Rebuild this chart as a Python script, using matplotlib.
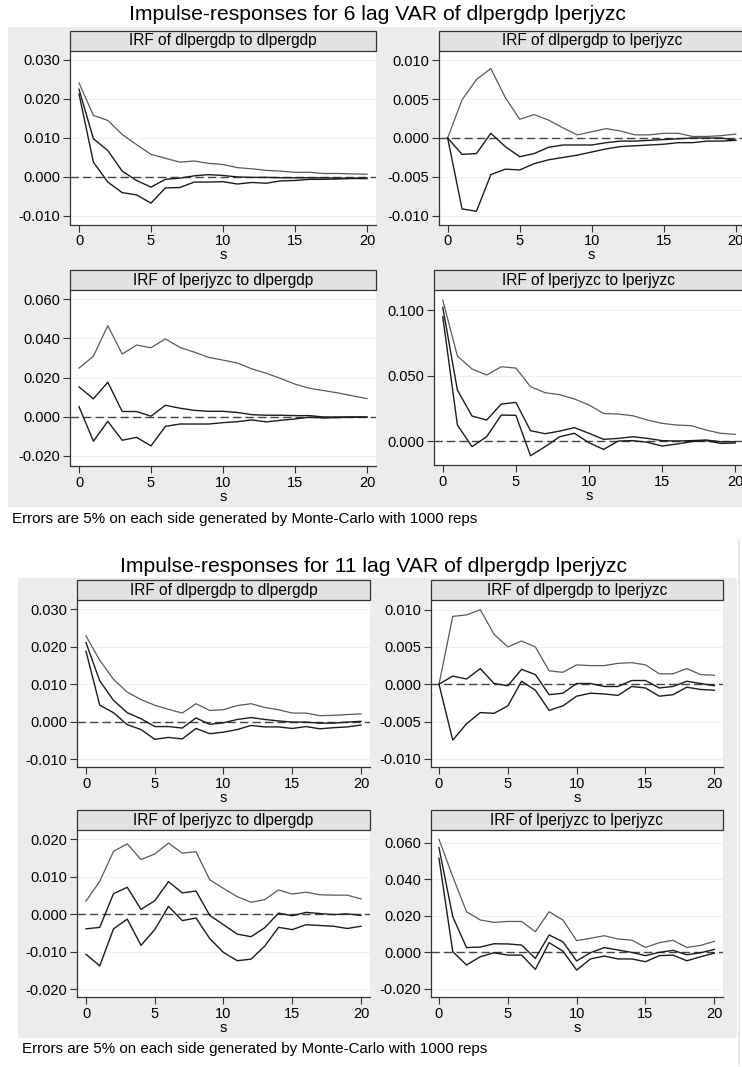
import numpy as np
import matplotlib
matplotlib.use("Agg")
import matplotlib.pyplot as plt
from matplotlib.patches import Rectangle

plt.rcParams["font.family"] = ["Liberation Sans", "DejaVu Sans"]

W, H = 742, 1067
steps = list(range(21))

# ---- 6 lag VAR ----
v6_dd_up = [0.0241, 0.0158, 0.0145, 0.0109, 0.0083, 0.0058, 0.0048, 0.0038, 0.0041, 0.0035, 0.0032,
            0.0024, 0.0021, 0.0017, 0.0015, 0.0012, 0.0012, 0.0009, 0.0009, 0.0008, 0.0007]
v6_dd_irf = [0.0225, 0.0098, 0.0068, 0.0015, -0.0009, -0.0026, -0.0006, -0.0003, 0.0003, 0.0006, 0.0004,
             0.0000, -0.0001, -0.0001, -0.0002, -0.0002, -0.0002, -0.0002, -0.0003, -0.0003, -0.0003]
v6_dd_lo = [0.0213, 0.0038, -0.0013, -0.0040, -0.0046, -0.0067, -0.0028, -0.0027, -0.0013, -0.0013, -0.0012,
            -0.0018, -0.0014, -0.0016, -0.0010, -0.0009, -0.0006, -0.0006, -0.0005, -0.0004, -0.0004]

v6_dl_up = [0.0, 0.0049, 0.0075, 0.0089, 0.0052, 0.0024, 0.0030, 0.0023, 0.0013, 0.0004, 0.0008,
            0.0012, 0.0009, 0.0004, 0.0004, 0.0006, 0.0006, 0.0002, 0.0002, 0.0003, 0.0005]
v6_dl_irf = [0.0, -0.0021, -0.0020, 0.0006, -0.0011, -0.0024, -0.0020, -0.0012, -0.0009, -0.0009, -0.0009,
             -0.0006, -0.0004, -0.0004, -0.0003, -0.0002, -0.0001, 0.0000, 0.0000, 0.0000, -0.0003]
v6_dl_lo = [0.0, -0.0091, -0.0094, -0.0047, -0.0040, -0.0041, -0.0033, -0.0028, -0.0025, -0.0022, -0.0018,
            -0.0014, -0.0011, -0.0010, -0.0009, -0.0008, -0.0006, -0.0006, -0.0004, -0.0004, -0.0003]

v6_ld_up = [0.0248, 0.0309, 0.0465, 0.0320, 0.0366, 0.0352, 0.0398, 0.0354, 0.0330, 0.0303, 0.0289,
            0.0274, 0.0244, 0.0222, 0.0195, 0.0166, 0.0145, 0.0133, 0.0121, 0.0106, 0.0092]
v6_ld_irf = [0.0152, 0.0091, 0.0176, 0.0026, 0.0026, 0.0002, 0.0058, 0.0043, 0.0032, 0.0027, 0.0027,
             0.0021, 0.0010, 0.0007, 0.0007, 0.0005, 0.0005, -0.0002, -0.0002, -0.0002, -0.0002]
v6_ld_lo = [0.0051, -0.0126, -0.0024, -0.0121, -0.0106, -0.0150, -0.0050, -0.0038, -0.0038, -0.0038, -0.0031,
            -0.0026, -0.0017, -0.0027, -0.0019, -0.0012, -0.0003, -0.0007, -0.0005, -0.0003, -0.0003]

v6_ll_up = [0.1076, 0.0649, 0.0550, 0.0504, 0.0567, 0.0557, 0.0415, 0.0369, 0.0354, 0.0321, 0.0275,
            0.0210, 0.0206, 0.0193, 0.0160, 0.0135, 0.0122, 0.0117, 0.0084, 0.0059, 0.0051]
v6_ll_irf = [0.1020, 0.0389, 0.0191, 0.0160, 0.0282, 0.0295, 0.0079, 0.0056, 0.0076, 0.0102, 0.0059,
             0.0013, 0.0020, 0.0033, 0.0020, 0.0003, 0.0000, 0.0003, 0.0008, -0.0005, -0.0005]
v6_ll_lo = [0.0949, 0.0122, -0.0043, 0.0033, 0.0198, 0.0196, -0.0112, -0.0043, 0.0033, 0.0059, -0.0013,
            -0.0064, 0.0000, 0.0003, -0.0010, -0.0038, -0.0023, -0.0005, 0.0003, -0.0018, -0.0015]

# ---- 11 lag VAR ----
v11_dd_up = [0.0229, 0.0164, 0.0113, 0.0079, 0.0059, 0.0044, 0.0033, 0.0023, 0.0048, 0.0030, 0.0032,
             0.0043, 0.0048, 0.0038, 0.0032, 0.0023, 0.0023, 0.0016, 0.0017, 0.0019, 0.0021]
v11_dd_irf = [0.0211, 0.0109, 0.0057, 0.0024, 0.0008, -0.0013, -0.0013, -0.0017, 0.0010, -0.0007, -0.0003,
              0.0006, 0.0011, 0.0006, 0.0002, -0.0001, -0.0001, -0.0004, -0.0004, -0.0001, 0.0001]
v11_dd_lo = [0.0188, 0.0044, 0.0024, -0.0008, -0.0021, -0.0047, -0.0042, -0.0046, -0.0018, -0.0032, -0.0028,
             -0.0021, -0.0010, -0.0014, -0.0014, -0.0018, -0.0013, -0.0019, -0.0016, -0.0014, -0.0009]

v11_dl_up = [0.0, 0.0091, 0.0093, 0.0100, 0.0067, 0.0050, 0.0058, 0.0050, 0.0018, 0.0016, 0.0026,
             0.0025, 0.0025, 0.0028, 0.0029, 0.0026, 0.0014, 0.0014, 0.0021, 0.0013, 0.0012]
v11_dl_irf = [0.0, 0.0011, 0.0007, 0.0021, 0.0001, -0.0002, 0.0020, 0.0013, -0.0014, -0.0012, 0.0001,
              0.0001, -0.0003, -0.0003, 0.0005, 0.0005, -0.0005, -0.0003, 0.0004, 0.0001, -0.0002]
v11_dl_lo = [0.0, -0.0075, -0.0053, -0.0038, -0.0039, -0.0029, 0.0004, -0.0008, -0.0035, -0.0029, -0.0016,
             -0.0012, -0.0013, -0.0015, -0.0003, -0.0005, -0.0016, -0.0014, -0.0004, -0.0007, -0.0008]

v11_ld_up = [0.0035, 0.0088, 0.0168, 0.0188, 0.0146, 0.0161, 0.0190, 0.0163, 0.0167, 0.0092, 0.0069,
             0.0047, 0.0032, 0.0039, 0.0065, 0.0054, 0.0059, 0.0052, 0.0051, 0.0051, 0.0041]
v11_ld_irf = [-0.0039, -0.0035, 0.0055, 0.0072, 0.0013, 0.0036, 0.0087, 0.0057, 0.0062, -0.0003, -0.0028,
              -0.0053, -0.0060, -0.0036, 0.0003, -0.0004, 0.0005, 0.0002, -0.0001, 0.0001, -0.0003]
v11_ld_lo = [-0.0107, -0.0138, -0.0039, -0.0013, -0.0083, -0.0041, 0.0021, -0.0017, -0.0010, -0.0065, -0.0102,
             -0.0124, -0.0120, -0.0085, -0.0035, -0.0041, -0.0028, -0.0030, -0.0032, -0.0038, -0.0032]

v11_ll_up = [0.0618, 0.0414, 0.0222, 0.0177, 0.0164, 0.0169, 0.0169, 0.0113, 0.0222, 0.0177, 0.0064,
             0.0077, 0.0091, 0.0073, 0.0067, 0.0027, 0.0053, 0.0066, 0.0027, 0.0038, 0.0060]
v11_ll_irf = [0.0572, 0.0195, 0.0026, 0.0029, 0.0047, 0.0046, 0.0040, -0.0033, 0.0095, 0.0058, -0.0047,
              -0.0002, 0.0026, 0.0013, 0.0000, -0.0018, 0.0000, 0.0011, -0.0013, -0.0002, 0.0016]
v11_ll_lo = [0.0514, 0.0004, -0.0069, -0.0024, -0.0002, -0.0015, -0.0015, -0.0093, 0.0053, 0.0007, -0.0097,
             -0.0036, -0.0020, -0.0036, -0.0036, -0.0051, -0.0018, -0.0015, -0.0046, -0.0024, -0.0004]

titles = ["IRF of dlpergdp to dlpergdp", "IRF of dlpergdp to lperjyzc",
          "IRF of lperjyzc to dlpergdp", "IRF of lperjyzc to lperjyzc"]
note = "Errors are 5% on each side generated by Monte-Carlo with 1000 reps"

BG = "#ececec"
STRIP = "#e2e2e2"


def fr(x0, y0, x1, y1):
    return [x0 / W, 1 - y1 / H, (x1 - x0) / W, (y1 - y0) / H]


def panel(fig, box, xlim, ylim, yticks, ylabels, title, up, irf, lo):
    x0, y0, x1, y1 = box
    ax = fig.add_axes(fr(x0, y0, x1, y1))
    ax.set_zorder(2)
    ax.set_facecolor("white")
    ax.plot(steps, up, color="#5a5a5a", lw=0.9, zorder=3)
    ax.plot(steps, irf, color="#1c1c1c", lw=1.0, zorder=3)
    ax.plot(steps, lo, color="#1c1c1c", lw=1.0, zorder=3)
    ax.axhline(0, color="#444444", lw=1.0, ls=(0, (6, 3)), zorder=2)
    for t in yticks:
        ax.axhline(t, color="#efefef", lw=0.8, zorder=1)
    ax.set_xlim(*xlim)
    ax.set_ylim(*ylim)
    ax.set_xticks([0, 5, 10, 15, 20])
    ax.set_yticks(yticks)
    ax.set_yticklabels(ylabels)
    ax.tick_params(labelsize=10.5, length=5, width=0.8, color="#333333", pad=2)
    ax.set_xlabel("s", fontsize=10.5, labelpad=0)
    for s in ["top", "right"]:
        ax.spines[s].set_visible(False)
    for s in ["left", "bottom"]:
        ax.spines[s].set_color("#333333")
        ax.spines[s].set_linewidth(0.9)
    # strip header
    sh = 20
    fig.patches.append(Rectangle((x0 / W, 1 - y0 / H), (x1 - x0) / W, sh / H,
                                 transform=fig.transFigure, facecolor=STRIP,
                                 edgecolor="#333333", lw=0.9, zorder=5))
    fig.text((x0 + x1) / 2 / W, 1 - (y0 - sh / 2) / H, title, ha="center", va="center",
             fontsize=11.2, zorder=6)
    return ax


fig = plt.figure(figsize=(W / 100, H / 100), dpi=100)
fig.patch.set_facecolor("white")

# gray graph regions
fig.patches.append(Rectangle((8 / W, 1 - 507 / H), (742 - 8) / W, (507 - 27) / H,
                             transform=fig.transFigure, facecolor=BG, edgecolor="none", zorder=-2))
fig.patches.append(Rectangle((18 / W, 1 - 1038 / H), (737 - 18) / W, (1038 - 578) / H,
                             transform=fig.transFigure, facecolor=BG, edgecolor="none", zorder=-2))
fig.add_artist(plt.Line2D([738.5 / W, 738.5 / W], [1 - 1065 / H, 1 - 540 / H],
                          transform=fig.transFigure, color="#e4e4e4", lw=1.2, zorder=-2))

fig.text(377 / W, 1 - 14 / H, "Impulse-responses for 6 lag VAR of dlpergdp lperjyzc",
         ha="center", va="center", fontsize=15.2)
fig.text(373 / W, 1 - 566 / H, "Impulse-responses for 11 lag VAR of dlpergdp lperjyzc",
         ha="center", va="center", fontsize=15.2)
fig.text(12 / W, 1 - 519 / H, note, ha="left", va="center", fontsize=10.9)
fig.text(22 / W, 1 - 1049 / H, note, ha="left", va="center", fontsize=10.9)

t3 = [0.03, 0.02, 0.01, 0.0, -0.01]
l3 = ["0.030", "0.020", "0.010", "0.000", "-0.010"]
t5 = [0.01, 0.005, 0.0, -0.005, -0.01]
l5 = ["0.010", "0.005", "0.000", "-0.005", "-0.010"]

# 6 lag
panel(fig, (70, 50.7, 376, 224.5), (-0.625, 20.625), (-0.01218, 0.03238), t3, l3,
      titles[0], v6_dd_up, v6_dd_irf, v6_dd_lo)
panel(fig, (439, 50.7, 744.4, 224.5), (-0.6, 20.6), (-0.0111, 0.0112), t5, l5,
      titles[1], v6_dl_up, v6_dl_irf, v6_dl_lo)
panel(fig, (70, 290, 376, 466), (-0.625, 20.625), (-0.02527, 0.06476),
      [0.06, 0.04, 0.02, 0.0, -0.02], ["0.060", "0.040", "0.020", "0.000", "-0.020"],
      titles[2], v6_ld_up, v6_ld_irf, v6_ld_lo)
panel(fig, (434, 290, 744, 465), (-0.6, 20.6), (-0.0183, 0.1153),
      [0.1, 0.05, 0.0], ["0.100", "0.050", "0.000"],
      titles[3], v6_ll_up, v6_ll_irf, v6_ll_lo)

# 11 lag
panel(fig, (77, 600, 370, 767), (-0.655, 20.655), (-0.0121, 0.0325), t3, l3,
      titles[0], v11_dd_up, v11_dd_irf, v11_dd_lo)
panel(fig, (431, 600, 723, 767), (-0.58, 20.63), (-0.0111, 0.0113), t5, l5,
      titles[1], v11_dl_up, v11_dl_irf, v11_dl_lo)
panel(fig, (77, 830, 370, 997), (-0.655, 20.655), (-0.0221, 0.0225),
      [0.02, 0.01, 0.0, -0.01, -0.02], ["0.020", "0.010", "0.000", "-0.010", "-0.020"],
      titles[2], v11_ld_up, v11_ld_irf, v11_ld_lo)
panel(fig, (431, 830, 723, 997), (-0.58, 20.63), (-0.0244, 0.0669),
      [0.06, 0.04, 0.02, 0.0, -0.02], ["0.060", "0.040", "0.020", "0.000", "-0.020"],
      titles[3], v11_ll_up, v11_ll_irf, v11_ll_lo)

fig.savefig("out.png", dpi=100)
